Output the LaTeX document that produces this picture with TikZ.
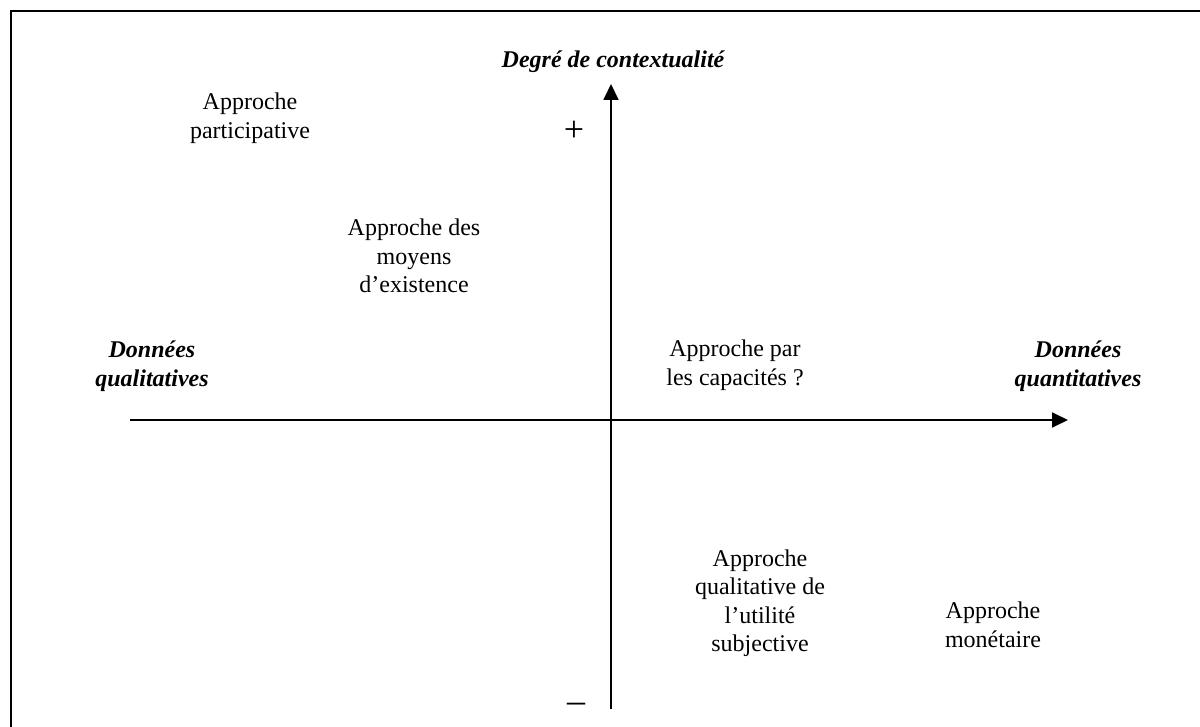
\documentclass[tikz,border=0pt]{standalone}
\usepackage{fontspec}
\setmainfont{Liberation Serif}
\usetikzlibrary{arrows.meta,positioning}

\begin{document}
\begin{tikzpicture}[
    x=0.5pt, y=-0.5pt,
    label/.style={align=center, font=\fontsize{12}{14.25}\selectfont, inner sep=0pt},
    axislabel/.style={label, font=\fontsize{12}{14.25}\selectfont\bfseries\itshape},
    sign/.style={inner sep=0pt, font=\fontsize{18}{20}\selectfont},
    axis/.style={-{Triangle[length=8pt, width=7.5pt]}, line width=0.9pt},
    frame/.style={line width=1.2pt}
]
    \useasboundingbox (0,0) rectangle (1200,727);
    \draw[frame] (11,727) |- (1200,11);

    \coordinate (xstart) at (130,420);
    \coordinate (xend) at (1068,420);
    \coordinate (ystart) at (611,709);
    \coordinate (yend) at (611,84);

    \draw[axis] (xstart) -- (xend);
    \draw[axis] (ystart) -- (yend);

    \node[axislabel] (context) at (613,62) {Degré de contextualité};
    \node[axislabel] (quali) at (152,366) {Données\\qualitatives};
    \node[axislabel] (quanti) at (1078,366) {Données\\quantitatives};
    \node[sign] (plus) at (574,131) {+};
    \node[sign] (minus) at (576,708) {–};

    \node[label] (particip) at (250,118) {Approche\\participative};
    \node[label] (moyens) at (414,256) {Approche des\\moyens\\d’existence};
    \node[label] (capac) at (735,365) {Approche par\\les capacités ?};
    \node[label] (utilite) at (760,603) {Approche\\qualitative de\\l’utilité\\subjective};
    \node[label] (monet) at (993,625) {Approche\\monétaire};
\end{tikzpicture}
\end{document}
